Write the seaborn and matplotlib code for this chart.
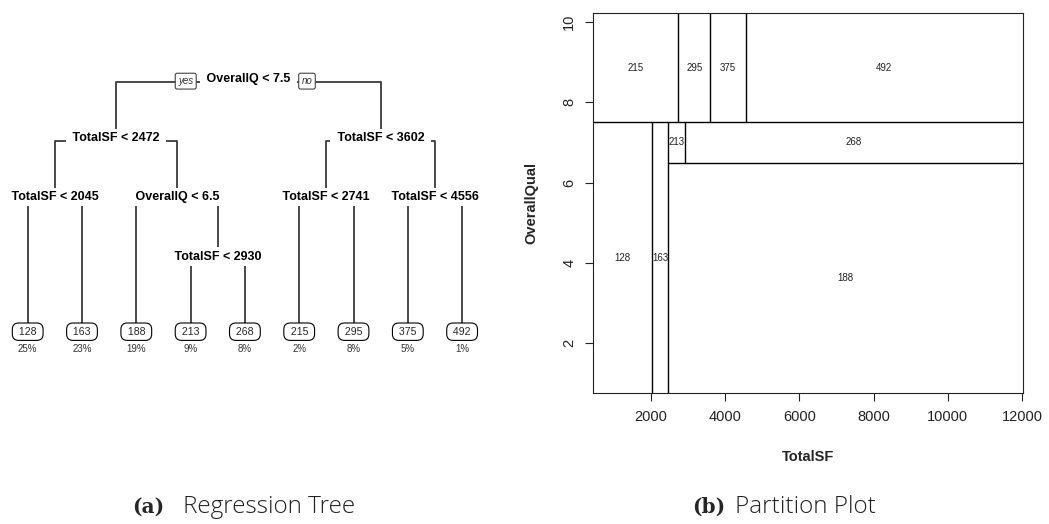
import matplotlib
matplotlib.use("Agg")
import matplotlib.pyplot as plt
import seaborn as sns
import pandas as pd

# ---------------- data ----------------
split_labels = ["OverallQ < 7.5", "TotalSF < 2472", "TotalSF < 2045", "OverallQ < 6.5",
                "TotalSF < 2930", "TotalSF < 3602", "TotalSF < 2741", "TotalSF < 4556"]
split_var = ["OverallQual", "TotalSF", "TotalSF", "OverallQual",
             "TotalSF", "TotalSF", "TotalSF", "TotalSF"]
split_at = [7.5, 2472, 2045, 6.5, 2930, 3602, 2741, 4556]
leaf_values = [128, 163, 188, 213, 268, 215, 295, 375, 492]
leaf_pct = [25, 23, 19, 9, 8, 2, 8, 5, 1]
# (split index, left=yes child, right=no child); int = leaf index
tree = (0, (1, (2, 0, 1), (3, 2, (4, 3, 4))), (5, (6, 5, 6), (7, 7, 8)))

x_ticks = [2000, 4000, 6000, 8000, 10000, 12000]
y_ticks = [2, 4, 6, 8, 10]
x_lim = (446, 12025)
y_lim = (0.765, 10.22)

x_name = "TotalSF"
y_name = "OverallQual"
caption_a = ("(a)", "Regression Tree")
caption_b = ("(b)", "Partition Plot")

# ---------------- style ----------------
sns.set_style("ticks", {"axes.edgecolor": "#222222", "xtick.color": "#222222",
                        "ytick.color": "#222222", "axes.linewidth": 0.9})
plt.rcParams["font.family"] = ["Liberation Sans", "DejaVu Sans"]

fig = plt.figure(figsize=(10.49, 5.24), dpi=100)

# ---------------- tree layout ----------------
LEAF_Y = 4.216
node_pos = {}
tree_segs = []


def layout(node, depth):
    if isinstance(node, int):
        return float(node), LEAF_Y
    s, left, right = node
    xl, yl = layout(left, depth + 1)
    xr, yr = layout(right, depth + 1)
    x = (xl + xr) / 2
    node_pos[s] = (x, depth)
    k = len(tree_segs)
    tree_segs.append(pd.DataFrame({"x": [xl, xl, xr, xr], "y": [yl, depth, depth, yr],
                                   "seg": [k] * 4}))
    return x, depth


layout(tree, 0)
tree_df = pd.concat(tree_segs, ignore_index=True)

axt = fig.add_axes([0, 0, 520 / 1049, 1])
sns.lineplot(data=tree_df, x="x", y="y", units="seg", estimator=None, sort=False,
             color="#3a3a3a", linewidth=1.3, ax=axt, legend=False)
axt.set_xlim(-0.510, 9.066)
axt.set_ylim(7.459, -1.378)
axt.axis("off")

for s, (x, d) in node_pos.items():
    axt.text(x, d, " " + split_labels[s] + " ", ha="center", va="baseline",
             fontsize=9, fontweight="bold", color="black", zorder=4,
             bbox=dict(boxstyle="square,pad=0.25", fc="white", ec="none"))

for i, (v, p) in enumerate(zip(leaf_values, leaf_pct)):
    axt.text(i, LEAF_Y, f" {v} ", ha="center", va="center", fontsize=7.6, zorder=4,
             bbox=dict(boxstyle="round,pad=0.35,rounding_size=0.6", fc="white",
                       ec="black", lw=0.8))
    axt.annotate(f"{p}%", (i, LEAF_Y), xytext=(0, -12.8), textcoords="offset points",
                 ha="center", va="center", fontsize=7, color="#333333")

rx, ry = node_pos[0]
for txt, dx, ha in (("yes", -39.6, "right"), ("no", 38.4, "left")):
    axt.annotate(txt, (rx, ry), xytext=(dx, 0.4), textcoords="offset points", ha=ha,
                 va="center", fontsize=7, style="italic", color="#333333", zorder=5,
                 bbox=dict(boxstyle="round,pad=0.3,rounding_size=0.2", fc="white",
                           ec="#444444", lw=0.8))

# ---------------- partition plot ----------------
part_segs = []
region_labels = []


def partition(node, bounds):
    if isinstance(node, int):
        cx = (bounds[x_name][0] + bounds[x_name][1]) / 2
        cy = (bounds[y_name][0] + bounds[y_name][1]) / 2
        region_labels.append((cx, cy, leaf_values[node]))
        return
    s, left, right = node
    var, t = split_var[s], split_at[s]
    k = len(part_segs)
    if var == x_name:
        lo, hi = bounds[y_name]
        part_segs.append(pd.DataFrame({"x": [t, t], "y": [lo, hi], "seg": [k, k]}))
    else:
        lo, hi = bounds[x_name]
        part_segs.append(pd.DataFrame({"x": [lo, hi], "y": [t, t], "seg": [k, k]}))
    lb = {kk: list(vv) for kk, vv in bounds.items()}
    rb = {kk: list(vv) for kk, vv in bounds.items()}
    lb[var][1] = t
    rb[var][0] = t
    partition(left, lb)
    partition(right, rb)


partition(tree, {x_name: list(x_lim), y_name: list(y_lim)})
part_df = pd.concat(part_segs, ignore_index=True)

axp = fig.add_axes([593 / 1049, 131 / 524, 430 / 1049, 380 / 524])
sns.lineplot(data=part_df, x="x", y="y", units="seg", estimator=None, sort=False,
             color="black", linewidth=1.0, ax=axp, legend=False)
for cx, cy, v in region_labels:
    axp.text(cx, cy, str(v), ha="center", va="center", fontsize=7, color="#222222")

axp.set_xlim(*x_lim)
axp.set_ylim(*y_lim)
axp.set_xticks(x_ticks)
axp.set_yticks(y_ticks)
axp.tick_params(direction="out", length=6, width=0.8, labelsize=10.5, pad=6)
for lab in axp.get_yticklabels():
    lab.set_rotation(90)
    lab.set_va("center")
axp.set_xlabel(x_name, fontsize=10.5, fontweight="bold")
axp.set_ylabel(y_name, fontsize=10.5, fontweight="bold")
axp.xaxis.set_label_coords(0.5, (393 - 456.7) / 380)
axp.xaxis.label.set_va("center")
axp.yaxis.set_label_coords((531 - 593) / 430, 0.5)
axp.yaxis.label.set_va("center")

# ---------------- captions ----------------
cy_fig = (524 - 512.7) / 524
for (tag, name), x_tag, x_name_px in ((caption_a, 131.7, 183.3), (caption_b, 691.7, 735.0)):
    fig.text(x_tag / 1049, cy_fig, tag, ha="left", va="baseline",
             family=["DejaVu Serif"], fontweight="bold", fontsize=14.5)
    fig.text(x_name_px / 1049, cy_fig, name, ha="left", va="baseline",
             family=["Open Sans", "DejaVu Sans"], fontweight="light", fontsize=17.5,
             color="#222222")

fig.savefig("out.png", dpi=100)
